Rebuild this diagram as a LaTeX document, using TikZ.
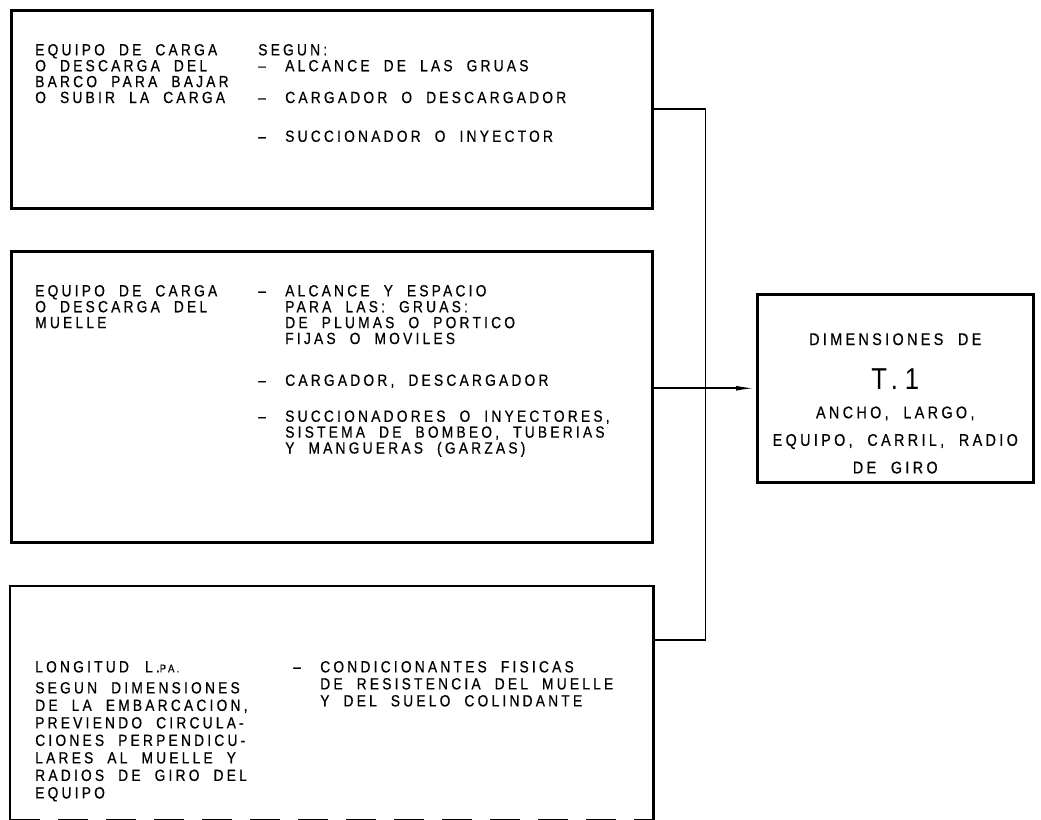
\documentclass[tikz,border=0pt]{standalone}
\usepackage{fontspec}
\setmainfont{Liberation Sans}[FakeStretch=0.85,FakeBold=0.6,LetterSpace=20,WordSpace=2]
\usetikzlibrary{arrows.meta}

\begin{document}
\begin{tikzpicture}[>={Latex[length=0.5cm,width=0.12cm]}]
 \tikzstyle{caja} = [draw,line width=1.8pt,inner sep=0,anchor=north west]
 \tikzstyle{linea} = [line width=1.3pt]
 \tikzstyle{texto} = [inner sep=0,anchor=north west,align=left,font=\fontsize{11.5}{11.3}\selectfont]
 \tikzstyle{centro} = [inner sep=0,anchor=north,align=center,font=\fontsize{12}{19.6}\selectfont]
 \newcommand{\guion}{\makebox[0.675cm][l]{--}}
 \newcommand{\sangria}{\hspace*{0.675cm}}
 \useasboundingbox (0,0) rectangle (26.025,-20.5);

 \node[caja,minimum width=16.025cm,minimum height=4.95cm] (barco) at (0.25,-0.225) {};
 \node[caja,minimum width=16.025cm,minimum height=7.275cm] (muelle) at (0.25,-6.25) {};
 \node[caja,draw=none,minimum width=16.025cm,minimum height=5.8cm] (longitud) at (0.25,-14.65) {};
 \node[caja,minimum width=6.9cm,minimum height=4.7cm] (dim) at (18.9,-7.325) {};
 \draw[line width=1.8pt] (longitud.south west) |- (longitud.north east) -- (longitud.south east);
 \draw[line width=1.8pt,dash pattern=on 0.75cm off 0.45cm] (longitud.south west) -- (longitud.south east);

 \node[texto] (barco-a) at ([xshift=0.625cm,yshift=-0.87cm]barco.north west)
   {EQUIPO DE CARGA\\O DESCARGA DEL\\BARCO PARA BAJAR\\O SUBIR LA CARGA};
 \node[texto] (barco-b) at ([xshift=6.2cm,yshift=-0.87cm]barco.north west)
   {SEGUN:\\\guion ALCANCE DE LAS GRUAS\\[11.3pt]\guion CARGADOR O DESCARGADOR\\[16.3pt]\guion SUCCIONADOR O INYECTOR};

 \node[texto] (muelle-a) at ([xshift=0.625cm,yshift=-0.87cm]muelle.north west)
   {EQUIPO DE CARGA\\O DESCARGA DEL\\MUELLE};
 \node[texto] (muelle-b) at ([xshift=6.2cm,yshift=-0.87cm]muelle.north west)
   {\guion ALCANCE Y ESPACIO\\\sangria PARA LAS: GRUAS:\\\sangria DE PLUMAS O PORTICO\\\sangria FIJAS O MOVILES\\[18.4pt]\guion CARGADOR, DESCARGADOR\\[14.3pt]\guion SUCCIONADORES O INYECTORES,\\\sangria SISTEMA DE BOMBEO, TUBERIAS\\\sangria Y MANGUERAS (GARZAS)};

 \node[texto,font=\fontsize{11.5}{12.45}\selectfont] (longitud-a) at ([xshift=0.625cm,yshift=-1.87cm]longitud.north west)
   {LONGITUD\quad L.{\fontsize{8}{8}\selectfont P\,A.}\\[2.5pt]SEGUN DIMENSIONES\\DE LA EMBARCACION,\\PREVIENDO CIRCULA-\\CIONES PERPENDICU-\\LARES AL MUELLE Y\\RADIOS DE GIRO DEL\\EQUIPO};
 \node[texto,font=\fontsize{11.5}{12.1}\selectfont] (longitud-b) at ([xshift=7.075cm,yshift=-1.87cm]longitud.north west)
   {\guion CONDICIONANTES FISICAS\\\sangria DE RESISTENCIA DEL MUELLE\\\sangria Y DEL SUELO COLINDANTE};

 \node[centro] (dim-a) at ([yshift=-1.0cm]dim.north) {DIMENSIONES DE};
 \node[centro,font=\fontsize{21.5}{21.5}\selectfont\addfontfeature{LetterSpace=22,FakeBold=0}] (dim-b) at ([yshift=-1.875cm]dim.north) {T.1};
 \node[centro] (dim-c) at ([yshift=-2.83cm]dim.north) {ANCHO, LARGO,\\EQUIPO, CARRIL, RADIO\\DE GIRO};

 \coordinate (c1) at ([xshift=1.3cm]barco.east);
 \coordinate (c3) at ([yshift=-1.35cm]longitud.north east);
 \draw[linea] (barco.east) -- (c1) |- (c3);
 \draw[linea,->] (muelle.east |- dim.west) -- (dim.west);
\end{tikzpicture}
\end{document}
